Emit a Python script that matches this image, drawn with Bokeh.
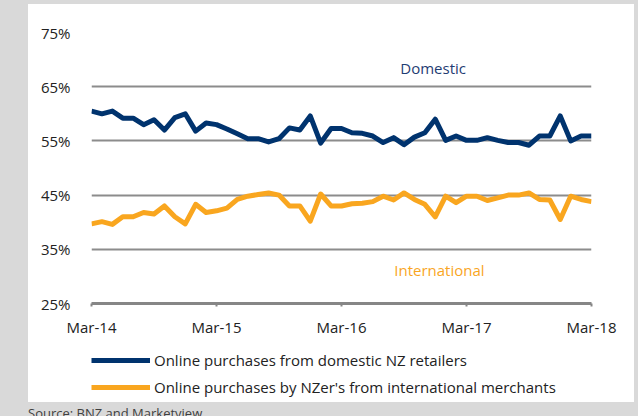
from bokeh.plotting import figure
from bokeh.models import ColumnDataSource, FixedTicker, Legend, LegendItem, Div, Label
from bokeh.layouts import column
from bokeh.embed import file_html
from bokeh.resources import INLINE

# ---- data (monthly, Mar-14 .. Mar-18) ----
domestic = [60.5, 60.0, 60.5, 59.2, 59.2, 58.0, 58.9, 57.0, 59.3, 60.0, 56.8, 58.3,
            58.0, 57.2, 56.3, 55.4, 55.4, 54.8, 55.4, 57.4, 57.0, 59.6, 54.6, 57.3,
            57.3, 56.5, 56.4, 55.9, 54.7, 55.6, 54.3, 55.7, 56.5, 59.0, 55.1, 55.9,
            55.1, 55.1, 55.6, 55.1, 54.7, 54.7, 54.2, 55.9, 55.9, 59.6, 55.0, 55.9,
            55.9]
international = [39.7, 40.1, 39.6, 41.0, 41.0, 41.8, 41.5, 43.0, 41.0, 39.7, 43.3, 41.8,
                 42.1, 42.6, 44.2, 44.8, 45.1, 45.4, 45.0, 43.0, 43.0, 40.2, 45.2, 43.0,
                 43.0, 43.4, 43.5, 43.8, 44.8, 44.1, 45.4, 44.2, 43.3, 41.0, 44.8, 43.6,
                 44.8, 44.8, 44.0, 44.5, 45.0, 45.0, 45.4, 44.2, 44.1, 40.5, 44.8, 44.2,
                 43.8]
month_index = list(range(len(domestic)))
x_tick_pos = [0, 12, 24, 36, 48]
x_tick_labels = ["Mar-14", "Mar-15", "Mar-16", "Mar-17", "Mar-18"]
y_ticks = [25, 35, 45, 55, 65, 75]
series_names = ["Online purchases from domestic NZ retailers",
                "Online purchases by NZer's from international merchants"]

NAVY = "#00336e"
ORANGE = "#f9a61f"
FONT = "Open Sans"

src = ColumnDataSource(dict(x=month_index, dom=domestic, intl=international))

# ---- main chart ----
p = figure(width=606, height=336, x_range=(0, 48), y_range=(25, 75),
           output_backend="svg", toolbar_location=None,
           min_border_left=63, min_border_right=43, min_border_top=28, min_border_bottom=37,
           background_fill_color="white", border_fill_color="white",
           outline_line_color=None, margin=0)

p.line("x", "dom", source=src, line_color=NAVY, line_width=5, line_join="round")
p.line("x", "intl", source=src, line_color=ORANGE, line_width=5, line_join="round")

p.xgrid.visible = False
p.ygrid.ticker = FixedTicker(ticks=y_ticks)
p.ygrid.grid_line_color = "#8c8c8c"
p.ygrid.grid_line_width = 2

p.yaxis.ticker = FixedTicker(ticks=y_ticks)
p.yaxis.major_label_overrides = {t: f"{t}%" for t in y_ticks}
p.yaxis.axis_line_color = None
p.yaxis.major_tick_line_color = None
p.yaxis.minor_tick_line_color = None
p.yaxis.major_label_standoff = 15
p.yaxis.major_label_text_font = FONT
p.yaxis.major_label_text_font_size = "15px"
p.yaxis.major_label_text_color = "#222222"

p.xaxis.ticker = FixedTicker(ticks=x_tick_pos)
p.xaxis.major_label_overrides = dict(zip(x_tick_pos, x_tick_labels))
p.xaxis.axis_line_color = "#868686"
p.xaxis.axis_line_width = 3
p.xaxis.major_tick_line_color = "#868686"
p.xaxis.major_tick_line_width = 2
p.xaxis.major_tick_in = 0
p.xaxis.major_tick_out = 3
p.xaxis.minor_tick_line_color = None
p.xaxis.major_label_standoff = 10
p.xaxis.major_label_text_font = FONT
p.xaxis.major_label_text_font_size = "15px"
p.xaxis.major_label_text_color = "#222222"

p.add_layout(Label(x=32.8, y=68.5, text="Domestic", text_align="center", text_baseline="middle",
                   text_color="#1f3d73", text_font=FONT, text_font_size="15px"))
p.add_layout(Label(x=33.4, y=31.1, text="International", text_align="center", text_baseline="middle",
                   text_color=ORANGE, text_font=FONT, text_font_size="15px"))

# ---- legend panel (series drawn off-range so only the legend shows) ----
lf = figure(width=606, height=62, x_range=(0, 48), y_range=(0, 1),
            output_backend="svg", toolbar_location=None,
            x_axis_type=None, y_axis_type=None,
            min_border_left=63, min_border_right=0, min_border_top=10, min_border_bottom=0,
            background_fill_color="white", border_fill_color="white",
            outline_line_color=None, margin=0)
lf.grid.visible = False
k1 = lf.line("x", "dom", source=src, line_color=NAVY, line_width=5)
k2 = lf.line("x", "intl", source=src, line_color=ORANGE, line_width=5)
legend = Legend(items=[LegendItem(label=series_names[0], renderers=[k1]),
                       LegendItem(label=series_names[1], renderers=[k2])],
                location="top_left", orientation="vertical",
                glyph_width=59, glyph_height=20, label_standoff=4, spacing=7,
                padding=0, margin=0,
                border_line_color=None, background_fill_alpha=0,
                label_text_font=FONT, label_text_font_size="15px", label_text_color="#222222")
lf.add_layout(legend)

panel = column(p, lf, spacing=0, margin=(4, 0, 0, 28),
               styles={"background-color": "white"})

div = Div(text="Source: BNZ and Marketview", margin=(2, 0, 0, 28),
          styles={"font-family": FONT, "font-size": "13px", "color": "#404040"})

layout = column(panel, div, width=638, height=416, spacing=0,
                styles={"background-color": "#d9d9d9"})

open("out.html", "w").write(file_html(layout, INLINE))
